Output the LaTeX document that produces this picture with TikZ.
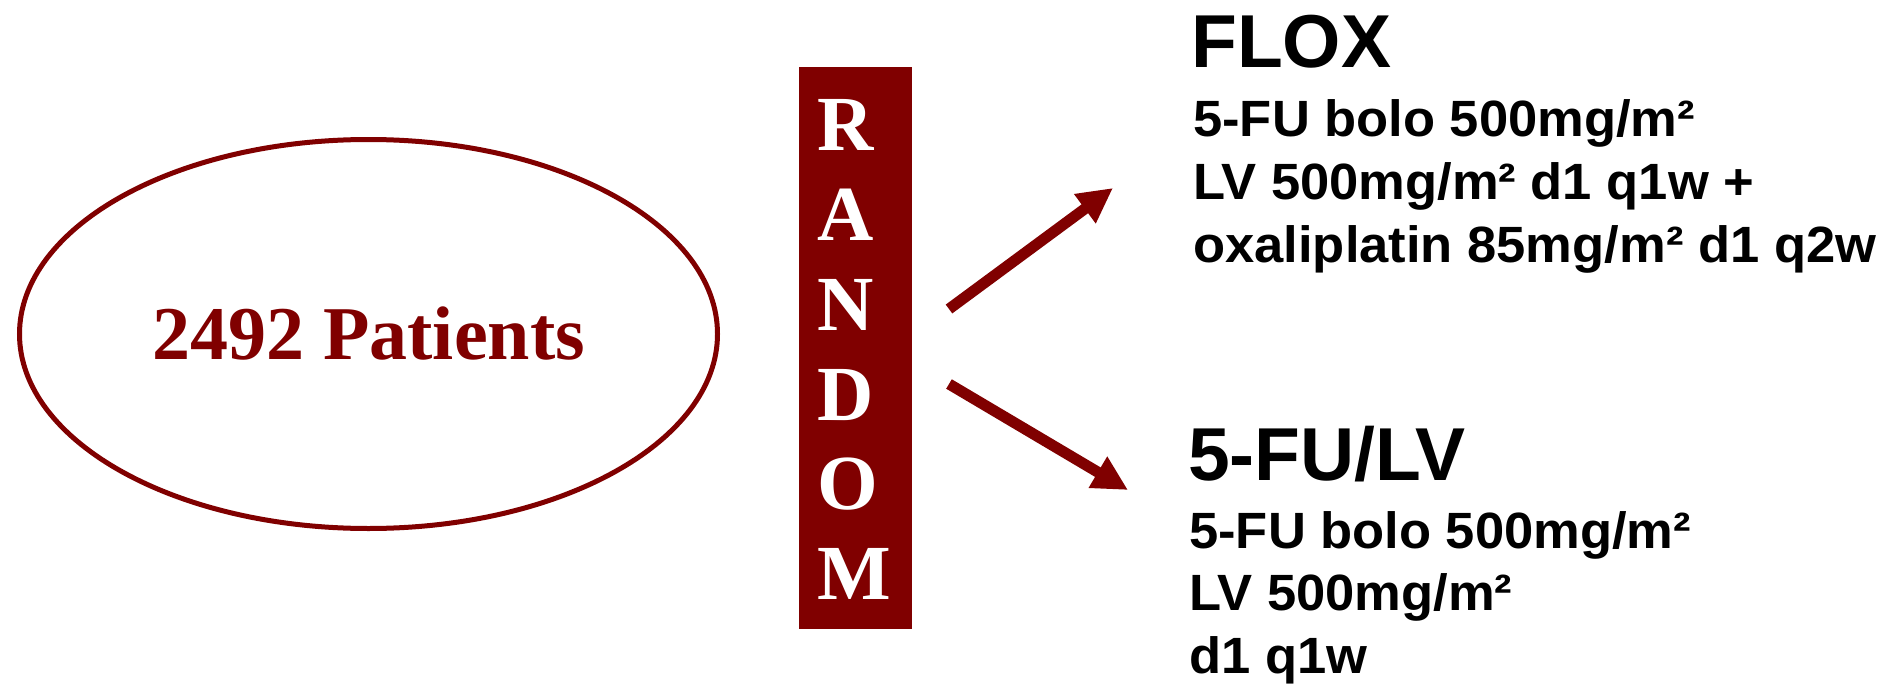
\documentclass[tikz,border=0pt]{standalone}
\usepackage{fontspec}
\setmainfont{Liberation Serif}
\newfontfamily\helb{Liberation Sans}
\newfontfamily\helbs{Liberation Sans}[FakeStretch=1.03]
\usetikzlibrary{shapes.geometric,arrows.meta}
\definecolor{dred}{HTML}{800000}
\begin{document}
\begin{tikzpicture}[x=1pt,y=-1pt,
  titletext/.style={anchor=base west,inner sep=0pt,font=\helb\bfseries\fontsize{75}{75}\selectfont},
  bodytext/.style={anchor=base west,inner sep=0pt,font=\helbs\bfseries\fontsize{51}{51}\selectfont},
  letter/.style={anchor=base west,inner sep=0pt,text=white,font=\bfseries\fontsize{78}{78}\selectfont},
  arr/.style={draw=dred,line width=11pt,-{Triangle[length=35pt,width=34pt]}}
]
\useasboundingbox (0,0) rectangle (1901,685);
% patients ellipse
\node[ellipse,draw=dred,line width=5pt,minimum width=698pt,minimum height=389pt,inner sep=0pt,
      text=dred,font=\bfseries\fontsize{76}{76}\selectfont] (pat) at (368.5,334) {2492 Patients};
% random bar
\node[fill=dred,minimum width=113pt,minimum height=562pt,inner sep=0pt] (rnd) at (855.5,348) {};
\node[letter] (lR) at (817,150) {R};
\node[letter] (lA) at (817,240) {A};
\node[letter] (lN) at (817,330) {N};
\node[letter] (lD) at (817,420) {D};
\node[letter] (lO) at (817,509) {O};
\node[letter] (lM) at (817,599) {M};
% arrows
\coordinate (a1s) at (949,309);
\coordinate (a1e) at (1113,188);
\coordinate (a2s) at (949,384);
\coordinate (a2e) at (1128,490);
\draw[arr] (a1s) -- (a1e);
\draw[arr] (a2s) -- (a2e);
% FLOX arm
\node[titletext] (flox) at (1191,67) {FLOX};
\node[bodytext] (f1) at (1193,136) {5-FU bolo 500mg/m²};
\node[bodytext] (f2) at (1193,199) {LV 500mg/m² d1 q1w +};
\node[bodytext] (f3) at (1193,262) {oxaliplatin 85mg/m² d1 q2w};
% 5-FU/LV arm
\node[titletext] (fulv) at (1188,480) {5-FU/LV};
\node[bodytext] (g1) at (1189,548) {5-FU bolo 500mg/m²};
\node[bodytext] (g2) at (1189,610) {LV 500mg/m²};
\node[bodytext] (g3) at (1189,673) {d1 q1w};
\end{tikzpicture}
\end{document}
